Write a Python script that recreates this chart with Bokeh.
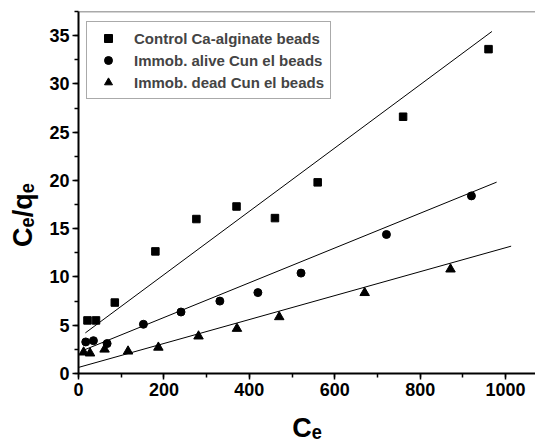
from bokeh.plotting import figure
from bokeh.models import (Range1d, LinearAxis, Legend, LegendItem,
                          SingleIntervalTicker, Span)
from bokeh.embed import file_html
from bokeh.resources import INLINE

# ---- data ----
control_x = [21, 41, 85, 180, 276, 370, 460, 560, 760, 960]
control_y = [5.5, 5.5, 7.35, 12.65, 16.0, 17.3, 16.1, 19.8, 26.6, 33.6]
alive_x = [17, 35, 67, 152, 240, 331, 420, 521, 721, 920]
alive_y = [3.27, 3.4, 3.1, 5.1, 6.37, 7.5, 8.38, 10.4, 14.4, 18.4]
dead_x = [12, 27, 61, 116, 187, 281, 371, 470, 670, 871]
dead_y = [2.2, 2.1, 2.5, 2.3, 2.7, 3.86, 4.65, 5.86, 8.36, 10.8]

# linear fits: slope, intercept, x-extent
control_fit = [0.0328, 3.68, 16, 968]
alive_fit = [0.0180, 2.20, 8, 979]
dead_fit = [0.0124, 0.63, -7, 1013]

series_labels = ["Control Ca-alginate beads",
                 "Immob. alive Cun el beads",
                 "Immob. dead Cun el beads"]
x_title = "C\u2091"
y_title = "C\u2091/q\u2091"

FONT = "Liberation Sans"
W, H = 535, 447
FL, FB = 78, 373   # frame left / bottom in page pixels

p = figure(width=W, height=H, x_range=Range1d(0, 1070), y_range=Range1d(0, 37.5),
           output_backend="svg", toolbar_location=None,
           min_border_left=FL, min_border_right=0, min_border_top=11,
           min_border_bottom=H - FB, x_axis_type=None, y_axis_type=None)
p.outline_line_color = None
p.background_fill_color = "white"
p.border_fill_color = "white"

def style_axis(ax):
    ax.axis_line_width = 2
    ax.axis_line_color = "black"
    ax.major_tick_line_width = 1.5
    ax.minor_tick_line_width = 1.5
    ax.major_tick_out = 6
    ax.major_tick_in = 0
    ax.minor_tick_out = 4
    ax.minor_tick_in = 0
    ax.major_label_text_font = FONT
    ax.major_label_text_font_style = "bold"
    ax.major_label_text_font_size = "18px"
    ax.major_label_text_color = "black"
    ax.major_label_standoff = 3
    ax.axis_label_text_font = FONT
    ax.axis_label_text_font_style = "bold"
    ax.axis_label_text_font_size = "27px"
    ax.axis_label_text_color = "black"

xaxis = LinearAxis(ticker=SingleIntervalTicker(interval=200, num_minor_ticks=2),
                   axis_label=x_title)
style_axis(xaxis)
xaxis.axis_label_standoff = 14
p.add_layout(xaxis, "below")
# trailing no-break spaces push the rotated title down toward the reference position
yaxis = LinearAxis(ticker=SingleIntervalTicker(interval=5, num_minor_ticks=2),
                   axis_label=y_title + "\u00a0" * 6)
style_axis(yaxis)
yaxis.axis_label_standoff = 8
p.add_layout(yaxis, "left")

# top frame line
p.add_layout(Span(location=37.5, dimension="width", line_color="#555555",
                  line_width=1.5))

# fit lines
for fit in (control_fit, alive_fit, dead_fit):
    xs = [fit[2], fit[3]]
    ys = [fit[1] + fit[0] * v for v in xs]
    p.line(xs, ys, line_color="black", line_width=1)

r1 = p.scatter(control_x, control_y, marker="square", size=7.5, color="black")
r2 = p.scatter(alive_x, alive_y, marker="circle", size=8, color="black")
r3 = p.scatter(dead_x, dead_y, marker="triangle", size=9.5, color="black")

legend = Legend(items=[LegendItem(label=series_labels[0], renderers=[r1]),
                       LegendItem(label=series_labels[1], renderers=[r2]),
                       LegendItem(label=series_labels[2], renderers=[r3])],
                location=(8, 274), label_text_font=FONT,
                label_text_font_style="bold", label_text_font_size="15px",
                border_line_color="#555555", border_line_width=1.5,
                padding=6, spacing=2, glyph_width=30, glyph_height=20,
                label_height=20, label_standoff=11, margin=0,
                background_fill_color="white", background_fill_alpha=1)
p.add_layout(legend)

open("out.html", "w").write(file_html(p, INLINE))
